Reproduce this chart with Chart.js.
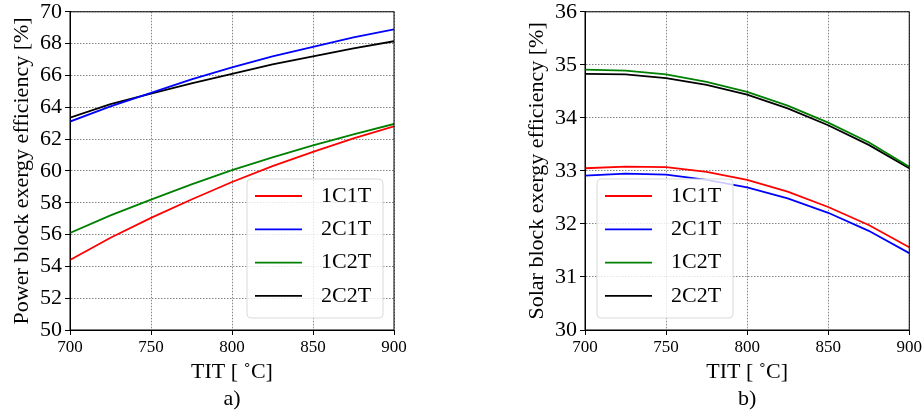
<!DOCTYPE html>
<html>
<head>
    <title>Exergy efficiency vs TIT</title>
    <script src="https://cdn.jsdelivr.net/npm/chart.js@4.4.1/dist/chart.umd.min.js"></script>
    <style>
        body { margin: 0; background: #fff; }
        .panel { position: absolute; top: 0; }
    </style>
</head>
<body>
<div class="panel" style="left:0"><canvas id="powerChart" width="460" height="412"></canvas></div>
<div class="panel" style="left:460px"><canvas id="solarChart" width="464" height="412"></canvas></div>

<script>
    // turbine inlet temperature, deg C
    const tit = [700, 725, 750, 775, 800, 825, 850, 875, 900];

    const configs = ['1C1T', '2C1T', '1C2T', '2C2T'];
    const colors = ['#ff0000', '#0000ff', '#008000', '#000000'];

    // a) power block exergy efficiency [%]
    const power1C1T = [54.4, 55.8, 57.05, 58.2, 59.3, 60.3, 61.2, 62.05, 62.8];
    const power2C1T = [63.1, 64.05, 64.9, 65.75, 66.5, 67.2, 67.8, 68.4, 68.9];
    const power1C2T = [56.1, 57.2, 58.2, 59.15, 60.05, 60.85, 61.6, 62.3, 62.95];
    const power2C2T = [63.35, 64.2, 64.85, 65.5, 66.1, 66.7, 67.2, 67.7, 68.15];

    // b) solar block exergy efficiency [%]
    const solar1C1T = [33.05, 33.08, 33.07, 32.98, 32.83, 32.61, 32.32, 31.98, 31.56];
    const solar2C1T = [32.91, 32.95, 32.93, 32.83, 32.69, 32.48, 32.21, 31.87, 31.45];
    const solar1C2T = [34.91, 34.89, 34.82, 34.68, 34.49, 34.23, 33.91, 33.54, 33.08];
    const solar2C2T = [34.83, 34.82, 34.75, 34.62, 34.44, 34.18, 33.86, 33.49, 33.05];

    Chart.defaults.font.family = '"Liberation Serif", "DejaVu Serif", serif';
    Chart.defaults.color = '#000';

    // solid box round the plot, like matplotlib spines
    const frame = {
        id: 'frame',
        afterDraw(chart) {
            const {ctx, chartArea: a} = chart;
            ctx.save();
            ctx.strokeStyle = '#000';
            ctx.lineWidth = 1;
            ctx.strokeRect(a.left, a.top, a.right - a.left, a.bottom - a.top);
            ctx.restore();
        }
    };

    // legend inside the plot, at the lower left or lower right corner
    const boxLegend = {
        id: 'boxLegend',
        afterDraw(chart, args, opts) {
            const {ctx, chartArea: a} = chart;
            const w = 136, h = 139;
            const x = opts.side === 'right' ? a.right - 11 - w : a.left + 12;
            const y = a.bottom - 12 - h;
            ctx.save();
            ctx.beginPath();
            ctx.roundRect(x, y, w, h, 4);
            ctx.fillStyle = 'rgba(255,255,255,0.8)';
            ctx.fill();
            ctx.strokeStyle = '#d9d9d9';
            ctx.lineWidth = 1;
            ctx.stroke();
            ctx.font = '22px "Liberation Serif"';
            ctx.textBaseline = 'middle';
            chart.data.datasets.forEach((ds, i) => {
                const ry = y + 17 + i * 33.3;
                ctx.strokeStyle = ds.borderColor;
                ctx.lineWidth = ds.borderWidth;
                ctx.beginPath();
                ctx.moveTo(x + 8, ry);
                ctx.lineTo(x + 55, ry);
                ctx.stroke();
                ctx.fillStyle = '#000';
                ctx.fillText(ds.label, x + 74, ry);
            });
            ctx.restore();
        }
    };

    function makeChart(id, series, yMin, yMax, yStep, yTitle, caption, side, padLeft, padRight) {
        const datasets = series.map((values, i) => ({
            label: configs[i],
            data: tit.map((t, j) => ({x: t, y: values[j]})),
            borderColor: colors[i],
            borderWidth: 1.8,
            pointRadius: 0,
            fill: false,
            tension: 0
        }));

        return new Chart(document.getElementById(id).getContext('2d'), {
            type: 'line',
            data: {datasets: datasets},
            plugins: [frame, boxLegend],
            options: {
                responsive: false,
                animation: false,
                layout: {padding: {left: padLeft, right: padRight, top: 9, bottom: 0}},
                plugins: {
                    legend: {display: false},
                    tooltip: {enabled: false},
                    boxLegend: {side: side}
                },
                scales: {
                    x: {
                        type: 'linear',
                        min: 700,
                        max: 900,
                        afterFit: (s) => { s.height = 82; },
                        ticks: {stepSize: 50, padding: 2, font: {size: 17, lineHeight: 1.2}},
                        grid: {color: '#666', lineWidth: 0.8, tickLength: 5, tickColor: '#000', tickWidth: 1},
                        border: {color: '#000', width: 1, dash: [1.5, 1.5]},
                        title: {
                            display: true,
                            text: ['TIT [ \u02DAC]', caption],
                            font: {size: 22, lineHeight: 1.2},
                            padding: {top: 0, bottom: 0}
                        }
                    },
                    y: {
                        min: yMin,
                        max: yMax,
                        afterFit: (s) => { s.width = 70; },
                        ticks: {stepSize: yStep, padding: 3, font: {size: 22, lineHeight: 0.8}},
                        grid: {color: '#666', lineWidth: 0.8, tickLength: 5, tickColor: '#000', tickWidth: 1},
                        border: {color: '#000', width: 1, dash: [1.5, 1.5]},
                        title: {
                            display: true,
                            text: yTitle,
                            font: {size: 22, lineHeight: 1.2},
                            padding: {top: 9, bottom: 0}
                        }
                    }
                }
            }
        });
    }

    makeChart('powerChart', [power1C1T, power2C1T, power1C2T, power2C2T],
        50, 70, 2, 'Power block exergy efficiency [%]', 'a)', 'right', 0, 66);
    makeChart('solarChart', [solar1C1T, solar2C1T, solar1C2T, solar2C2T],
        30, 36, 1, 'Solar block exergy efficiency [%]', 'b)', 'left', 55, 14);
</script>
</body>
</html>
